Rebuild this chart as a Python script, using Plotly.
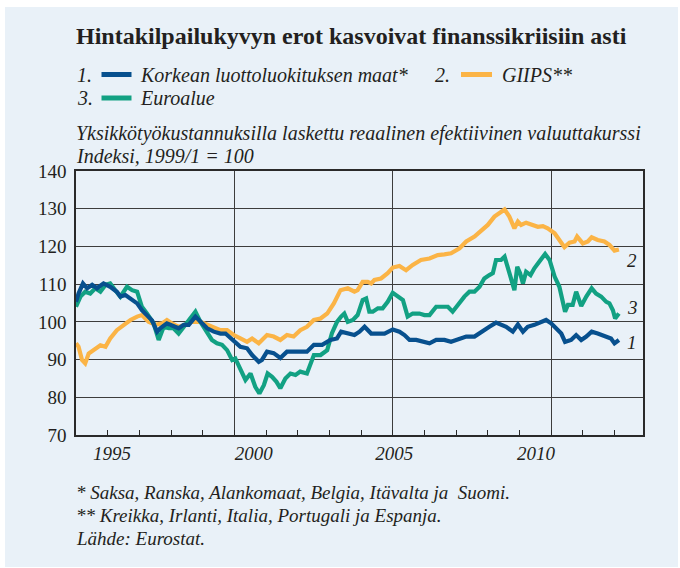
import plotly.graph_objects as go

# ---------------- data ----------------
blue_x = [1995.00, 1995.08, 1995.22, 1995.35, 1995.51, 1995.66, 1995.87, 1996.08, 1996.29, 1996.40,
          1996.56, 1996.77, 1996.93, 1997.08, 1997.24, 1997.40, 1997.56, 1997.66, 1997.87, 1998.08,
          1998.24, 1998.40, 1998.56, 1998.77, 1998.93, 1999.14, 1999.35, 1999.56, 1999.72, 1999.82,
          1999.98, 2000.19, 2000.40, 2000.56, 2000.77, 2000.87, 2001.03, 2001.24, 2001.45, 2001.66,
          2001.87, 2002.08, 2002.29, 2002.51, 2002.77, 2003.03, 2003.24,
          2003.37, 2003.58, 2003.79, 2003.95, 2004.11, 2004.32, 2004.53, 2004.74, 2005.00, 2005.21,
          2005.37, 2005.53, 2005.74, 2005.95, 2006.16, 2006.37, 2006.63, 2006.84, 2007.05, 2007.32,
          2007.58, 2007.79, 2008.05, 2008.26, 2008.42, 2008.58, 2008.79, 2008.95, 2009.11, 2009.26,
          2009.47, 2009.68, 2009.84, 2010.00, 2010.16, 2010.32, 2010.44, 2010.63, 2010.79, 2010.95,
          2011.11, 2011.28, 2011.47, 2011.68, 2011.89, 2012.00, 2012.14]
blue_y = [105.3, 107.5, 110.2, 108.9, 109.8, 108.9, 110.2, 109.3, 108.0, 106.7,
          107.1, 105.8, 104.9, 103.1, 101.8, 100.4, 97.4, 98.3, 99.6, 98.7,
          98.3, 99.2, 99.2, 101.4, 100.0, 98.3, 97.4, 96.9, 96.9, 96.1,
          95.2, 93.4, 93.0, 91.2, 89.4, 89.9, 92.1, 91.7, 90.4, 92.1,
          92.1, 92.1, 92.1, 93.9, 93.9, 95.2, 95.6,
          97.4, 96.9, 96.5, 97.4, 98.7, 96.9, 96.9, 96.9, 98.0, 97.4,
          96.5, 95.2, 95.2, 94.7, 94.3, 95.2, 95.2, 94.7, 95.2, 96.1,
          96.1, 97.4, 98.7, 99.8, 99.2, 98.7, 97.4, 99.3, 97.4, 98.7,
          99.2, 100.0, 100.5, 99.6, 98.3, 96.9, 94.7, 95.2, 96.5, 95.2,
          96.1, 97.4, 96.9, 96.1, 95.6, 94.3, 95.2]

orange_x = [1995.00, 1995.08, 1995.19, 1995.29, 1995.40, 1995.56, 1995.77, 1995.93, 1996.08, 1996.29,
            1996.51, 1996.72, 1996.93, 1997.08, 1997.29, 1997.51, 1997.72, 1997.87, 1998.03, 1998.24,
            1998.45, 1998.66, 1998.93, 1999.14, 1999.35, 1999.56, 1999.77, 1999.98, 2000.19, 2000.40,
            2000.56, 2000.77, 2001.03, 2001.24, 2001.45, 2001.66, 2001.87, 2002.08, 2002.29, 2002.51,
            2002.72, 2002.93, 2003.14, 2003.35,
            2003.58, 2003.79, 2003.89, 2004.05, 2004.21, 2004.32, 2004.42, 2004.63, 2004.84, 2005.00,
            2005.21, 2005.42, 2005.63, 2005.89, 2006.16, 2006.42, 2006.63, 2006.84, 2007.11, 2007.32,
            2007.58, 2007.79, 2008.00, 2008.21, 2008.40, 2008.53, 2008.68, 2008.84, 2008.95, 2009.05,
            2009.21, 2009.37, 2009.58, 2009.74, 2009.89, 2010.11, 2010.26, 2010.42, 2010.58, 2010.74,
            2010.82, 2011.00, 2011.16, 2011.28, 2011.47, 2011.68, 2011.84, 2012.00, 2012.14]
orange_y = [94.3, 93.4, 89.9, 89.0, 91.6, 92.5, 93.8, 93.4, 95.6, 97.8,
            99.2, 100.5, 101.4, 101.8, 100.0, 99.2, 99.6, 100.5, 99.6, 98.7,
            99.2, 100.0, 100.0, 99.2, 98.7, 97.8, 97.8, 96.5, 95.6, 94.7,
            95.6, 94.3, 96.5, 96.1, 95.2, 96.5, 96.1, 97.8, 98.7, 100.5,
            100.9, 102.2, 104.9, 108.4,
            108.9, 108.0, 108.4, 110.6, 110.6, 110.2, 111.1, 111.5, 112.9, 114.4,
            114.8, 113.7, 115.1, 116.4, 116.8, 117.7, 117.9, 118.2, 119.5, 121.3,
            122.6, 124.3, 125.7, 127.9, 129.0, 129.8, 127.9, 124.8, 126.6, 125.7,
            126.3, 125.7, 125.2, 125.4, 124.8, 123.5, 121.7, 119.8, 121.0, 121.3,
            122.6, 120.8, 121.3, 122.4, 121.7, 121.3, 120.4, 118.9, 119.2]

green_x = [1995.00, 1995.14, 1995.29, 1995.45, 1995.61, 1995.77, 1995.93, 1996.08, 1996.24, 1996.40,
           1996.61, 1996.77, 1996.93, 1997.08, 1997.24, 1997.45, 1997.61, 1997.77, 1997.93, 1998.08,
           1998.24, 1998.45, 1998.61, 1998.77, 1998.93, 1999.14, 1999.29, 1999.45, 1999.61, 1999.77,
           1999.93, 2000.03, 2000.19, 2000.35, 2000.51, 2000.66, 2000.79, 2000.93, 2001.05, 2001.19,
           2001.33, 2001.45, 2001.61, 2001.77, 2001.93, 2002.08, 2002.29, 2002.51, 2002.72, 2002.93,
           2003.08, 2003.24,
           2003.37, 2003.47, 2003.58, 2003.74, 2003.89, 2004.05, 2004.16, 2004.26, 2004.37, 2004.53,
           2004.68, 2004.84, 2005.00, 2005.16, 2005.32, 2005.47, 2005.63, 2005.84, 2006.00, 2006.16,
           2006.37, 2006.58, 2006.74, 2006.89, 2007.05, 2007.26, 2007.42, 2007.58, 2007.74, 2007.89,
           2008.05, 2008.16, 2008.26, 2008.42, 2008.53, 2008.63, 2008.74, 2008.84, 2008.93, 2009.02,
           2009.11, 2009.21, 2009.35, 2009.47, 2009.63, 2009.81, 2009.95, 2010.11, 2010.26, 2010.37,
           2010.44, 2010.53, 2010.68, 2010.79, 2010.95, 2011.11, 2011.28, 2011.42, 2011.58, 2011.74,
           2011.84, 2011.95, 2012.02, 2012.14]
green_y = [104.0, 106.7, 108.0, 107.5, 108.9, 108.0, 109.8, 110.2, 108.4, 106.7,
           109.3, 108.4, 108.0, 104.0, 102.2, 99.6, 95.2, 98.7, 98.3, 98.3,
           96.9, 99.2, 100.5, 102.7, 100.0, 96.9, 95.2, 94.3, 93.9, 92.5,
           89.9, 90.3, 87.2, 84.6, 86.3, 82.8, 81.0, 83.2, 86.3, 85.4,
           84.1, 82.4, 85.0, 86.3, 85.9, 86.8, 86.3, 91.2, 91.2, 92.5,
           97.0, 100.0,
           101.4, 102.2, 100.0, 100.5, 101.8, 105.8, 106.2, 102.7, 102.7, 103.6,
           103.6, 105.3, 107.7, 106.7, 105.8, 101.4, 102.2, 102.2, 101.8, 101.8,
           104.0, 104.0, 104.0, 102.7, 104.5, 106.7, 108.0, 108.0, 109.3, 111.5,
           112.4, 112.9, 116.4, 116.4, 117.3, 114.6, 111.5, 108.4, 114.6, 112.9,
           110.2, 113.3, 112.4, 114.2, 116.0, 118.0, 116.4, 112.0, 109.3, 104.9,
           102.7, 104.5, 104.5, 108.0, 104.2, 106.7, 108.9, 107.5, 106.7, 105.3,
           104.9, 103.1, 100.9, 102.2]

series_names = ["Korkean luottoluokituksen maat*", "GIIPS**", "Euroalue"]
series_numbers = ["1.", "2.", "3."]
end_labels = ["1", "2", "3"]

year_ticks = list(range(1996, 2013))          # small ticks at each year start
grid_years = [2000, 2005, 2010]                 # vertical grid lines
year_label_pos = [1996.14, 2000.61, 2005.05, 2009.52]   # where the year labels sit in the reference
year_label_text = ["1995", "2000", "2005", "2010"]
y_ticks = [70, 80, 90, 100, 110, 120, 130, 140]

title = "Hintakilpailukyvyn erot kasvoivat finanssikriisiin asti"
subtitle1 = "Yksikkötyökustannuksilla laskettu reaalinen efektiivinen valuuttakurssi"
subtitle2 = "Indeksi, 1999/1 = 100"
notes = ["* Saksa, Ranska, Alankomaat, Belgia, Itävalta ja\u00a0 Suomi.",
         "** Kreikka, Irlanti, Italia, Portugali ja Espanja.",
         "Lähde: Eurostat."]

# ---------------- style ----------------
BLUE = "#07508e"
ORANGE = "#fbb446"
GREEN = "#12a183"
BG = "#e9f1f8"
INK = "#231f20"
GRID = "#3d3d3d"
SERIF = "Liberation Serif, Times New Roman, serif"

W, H = 680, 568
L, R, T, B = 76, 643, 171, 435
PW, PH = R - L, B - T


def px(x):
    return (x - L) / PW


def py(y):
    return (B - y) / PH


fig = go.Figure()

fig.add_trace(go.Scatter(x=orange_x, y=orange_y, mode="lines", name=series_names[1],
                         line=dict(color=ORANGE, width=4.2), showlegend=False))
fig.add_trace(go.Scatter(x=green_x, y=green_y, mode="lines", name=series_names[2],
                         line=dict(color=GREEN, width=4.2), showlegend=False))
fig.add_trace(go.Scatter(x=blue_x, y=blue_y, mode="lines", name=series_names[0],
                         line=dict(color=BLUE, width=4.2), showlegend=False))
# carrier for the vertical-grid axis
fig.add_trace(go.Scatter(x=[grid_years[0]], y=[None], xaxis="x2", mode="lines",
                         showlegend=False, hoverinfo="skip"))

shapes = [dict(type="rect", xref="paper", yref="paper", x0=px(5), x1=px(678),
               y0=py(567), y1=py(7), fillcolor=BG, line=dict(width=0), layer="below")]
annotations = []

# title
annotations.append(dict(text=f"<b>{title}</b>", xref="paper", yref="paper", x=px(74), y=py(36),
                        xanchor="left", yanchor="middle", showarrow=False,
                        font=dict(family=SERIF, size=24, color=INK)))

# legend (numbers, line samples, names)
legend_rows = [  # (number x, line x0, line x1, text x, y)
    (75, 101.5, 131.5, 138, 74.5),
    (433, 461, 492, 500, 74.5),
    (75, 101.5, 131.5, 138, 98),
]
colors = [BLUE, ORANGE, GREEN]
for i, (nx, lx0, lx1, tx, yy) in enumerate(legend_rows):
    annotations.append(dict(text=f"<i>{series_numbers[i]}</i>", xref="paper", yref="paper",
                            x=px(nx), y=py(yy), xanchor="left", yanchor="middle", showarrow=False,
                            font=dict(family=SERIF, size=20, color=INK)))
    annotations.append(dict(text=f"<i>{series_names[i]}</i>", xref="paper", yref="paper",
                            x=px(tx), y=py(yy), xanchor="left", yanchor="middle", showarrow=False,
                            font=dict(family=SERIF, size=20, color=INK)))
    shapes.append(dict(type="line", xref="paper", yref="paper", x0=px(lx0), x1=px(lx1),
                       y0=py(yy), y1=py(yy), line=dict(color=colors[i], width=5)))

# axis description
for txt, yy in [(subtitle1, 133.5), (subtitle2, 156)]:
    annotations.append(dict(text=f"<i>{txt}</i>", xref="paper", yref="paper", x=px(74), y=py(yy),
                            xanchor="left", yanchor="middle", showarrow=False,
                            font=dict(family=SERIF, size=20, color=INK)))

# end-of-line labels
for lab, xs, ys, dy in [(end_labels[0], blue_x, blue_y, -0.8),
                        (end_labels[1], orange_x, orange_y, -2.8),
                        (end_labels[2], green_x, green_y, 1.6)]:
    annotations.append(dict(text=f"<i>{lab}</i>", x=xs[-1] + 0.2, y=ys[-1] + dy, xref="x", yref="y",
                            xanchor="left", yanchor="middle", showarrow=False,
                            font=dict(family=SERIF, size=19, color=INK)))

# footnotes
for txt, yy in zip(notes, [492, 515, 538]):
    annotations.append(dict(text=f"<i>{txt}</i>", xref="paper", yref="paper", x=px(74), y=py(yy),
                            xanchor="left", yanchor="middle", showarrow=False,
                            font=dict(family=SERIF, size=19, color=INK)))

fig.update_layout(
    width=W, height=H,
    margin=dict(l=L, r=W - R, t=T, b=H - B, pad=0),
    paper_bgcolor="white", plot_bgcolor=BG,
    showlegend=False,
    shapes=shapes, annotations=annotations,
    xaxis=dict(range=[1995.0, 2012.9], showgrid=False, zeroline=False,
               showline=True, mirror=True, linecolor="#2a2a2a", linewidth=1.5,
               tickmode="array", tickvals=year_label_pos, ticktext=year_label_text,
               ticks="", ticklabelstandoff=0,
               tickfont=dict(family=SERIF, size=19, color=INK, style="italic"),
               minor=dict(tickmode="array", tickvals=year_ticks, ticks="inside", ticklen=5,
                          tickcolor="#2a2a2a", tickwidth=1, showgrid=False)),
    xaxis2=dict(range=[1995.0, 2012.9], overlaying="x", side="bottom", showgrid=True,
                gridcolor=GRID, gridwidth=1, tickmode="array", tickvals=grid_years,
                showticklabels=False, ticks="", showline=False, zeroline=False),
    yaxis=dict(range=[70, 140], tickmode="array", tickvals=y_ticks, showgrid=True,
               gridcolor=GRID, gridwidth=1, zeroline=False, showline=True, mirror=True,
               linecolor="#2a2a2a", linewidth=1.5, ticks="", ticklabelstandoff=4,
               tickfont=dict(family=SERIF, size=19, color=INK)),
    hovermode=False,
)

fig.write_html("out.html", config={"displayModeBar": False},
               post_script="document.body.style.margin='0';")
